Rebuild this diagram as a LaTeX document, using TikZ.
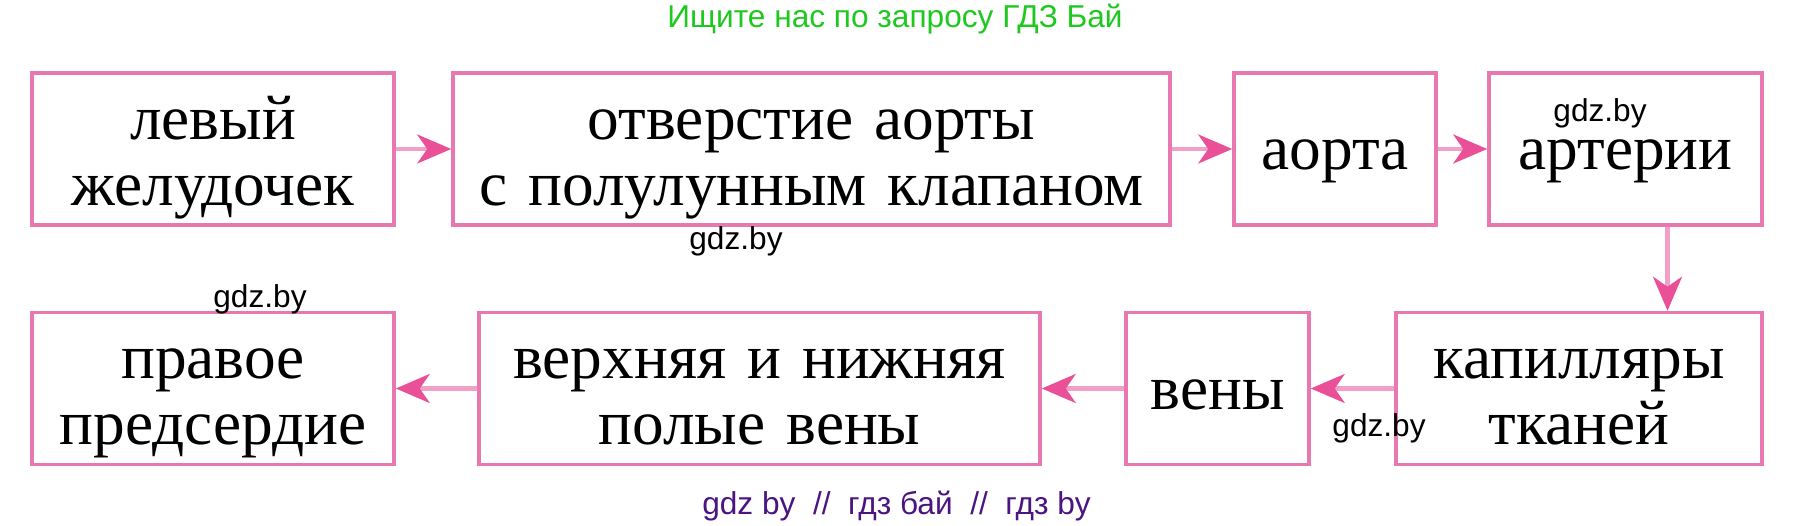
\documentclass[tikz,border=0pt]{standalone}
\usepackage{fontspec}
\setmainfont{Liberation Serif}
\newfontfamily\gdzfont{Liberation Sans}
\usepackage{tikz}
\usetikzlibrary{arrows,arrows.meta,positioning}
\usepackage{xcolor}
\definecolor{bxpink}{RGB}{232,120,176}
\definecolor{shaftpink}{RGB}{242,160,200}
\definecolor{headpink}{RGB}{234,80,152}
\definecolor{gdzgreen}{RGB}{30,200,30}
\definecolor{gdzpurple}{RGB}{75,20,130}
\tikzstyle{arrow} = [line width=1.15pt, color=shaftpink, -{Stealth[length=3.4mm, width=2.9mm, inset=1mm, color=headpink]}]
\tikzstyle{organ} = [rectangle, minimum height=1.52cm, align=center, draw=bxpink, line width=1pt, inner sep=0pt, font=\fontsize{18}{18.7}\selectfont, text height=0.5cm, text depth=0.08cm]
\tikzstyle{organtwo} = [organ, text depth=0.69cm]
\tikzstyle{gdzlabel} = [inner sep=0pt, anchor=base, font=\gdzfont\fontsize{9}{10}\selectfont]

\begin{document}
\begin{tikzpicture}
    \useasboundingbox (0,0) rectangle (17.95,-5.26);

    % Nodes
    \node[organtwo, minimum width=3.62cm, text width=3.5cm] (lv) at (2.13,-1.49) {левый\\желудочек};
    \node[organtwo, minimum width=7.17cm, text width=7.05cm] (otv) at (8.115,-1.49) {отверстие аорты\\с полулунным клапаном};
    \node[organ, minimum width=2.02cm, text width=1.9cm] (aorta) at (13.35,-1.49) {аорта};
    \node[organ, minimum width=2.73cm, text width=2.6cm] (art) at (16.255,-1.49) {артерии};
    \node[organtwo, minimum width=3.66cm, text width=3.55cm] (kap) at (15.79,-3.885) {капилляры\\тканей};
    \node[organ, minimum width=1.83cm, text width=1.7cm] (veny) at (12.175,-3.885) {вены};
    \node[organtwo, minimum width=5.61cm, text width=5.5cm] (vnv) at (7.595,-3.885) {верхняя и нижняя\\полые вены};
    \node[organtwo, minimum width=3.62cm, text width=3.5cm] (pp) at (2.13,-3.885) {правое\\предсердие};

    % Arrows
    \draw[arrow] (lv) -- (otv);
    \draw[arrow] (otv) -- (aorta);
    \draw[arrow] (aorta) -- (art);
    \draw[arrow] ([xshift=4.2mm]art.south) -- ([xshift=4.2mm]art.south |- kap.north);
    \draw[arrow] (kap) -- (veny);
    \draw[arrow] (veny) -- (vnv);
    \draw[arrow] (vnv) -- (pp);

    % Labels
    \node[gdzlabel, text=gdzgreen] (title) at (8.95,-0.28) {Ищите нас по запросу ГДЗ Бай};
    \node[gdzlabel, text=gdzpurple] (foot) at (8.965,-5.15) {gdz by\ \ //\ \ гдз бай\ \ //\ \ гдз by};
    \node[gdzlabel] (wmart) at (16.00,-1.22) {gdz.by};
    \node[gdzlabel] (wmotv) at (7.36,-2.50) {gdz.by};
    \node[gdzlabel] (wmpp) at (2.60,-3.08) {gdz.by};
    \node[gdzlabel] (wmkap) at (13.79,-4.37) {gdz.by};
\end{tikzpicture}
\end{document}
